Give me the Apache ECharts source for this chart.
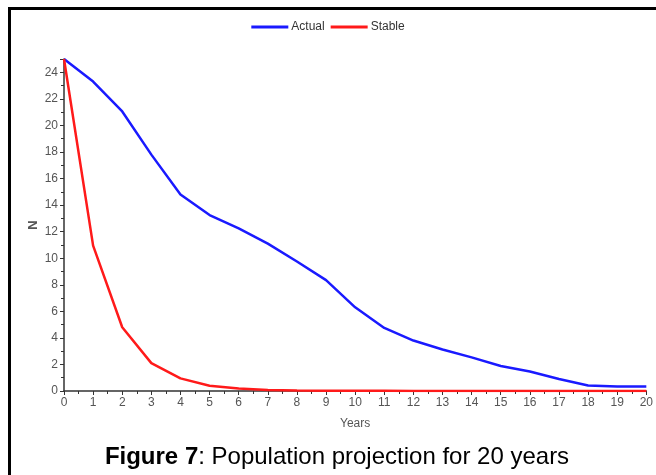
<!DOCTYPE html>
<html>
<head>
<meta charset="utf-8">
<script src="https://cdn.jsdelivr.net/npm/echarts@6/dist/echarts.min.js"></script>
<style>
    html, body { margin: 0; padding: 0; background: #fff; }
    #echart { width: 656px; height: 475px; }
    .frame {
        position: absolute;
        left: 8px;
        top: 7px;
        width: 660px;
        height: 480px;
        border-top: 3px solid #000;
        border-left: 3px solid #000;
        pointer-events: none;
    }
</style>
</head>
<body>
<div id="echart"></div>
<div class="frame"></div>
<script>
    var years = [0, 1, 2, 3, 4, 5, 6, 7, 8, 9, 10, 11, 12, 13, 14, 15, 16, 17, 18, 19, 20];
    var actual = [25, 23.3, 21.05, 17.8, 14.8, 13.25, 12.25, 11.1, 9.75, 8.35, 6.3, 4.75, 3.8, 3.13, 2.53, 1.88, 1.47, 0.9, 0.42, 0.33, 0.33];
    var stable = [25, 10.95, 4.8, 2.1, 0.95, 0.4, 0.18, 0.08, 0.04, 0.02, 0.01, 0.01, 0, 0, 0, 0, 0, 0, 0, 0, 0];

    var myChart = echarts.init(document.getElementById('echart'));
    var axisColor = '#333';
    var labelColor = '#555';
    var font = 'Liberation Sans, Arial';

    function pairs(values) {
        return years.map(function(y, i) { return [y, values[i]]; });
    }

    var option = {
        animation: false,
        title: {
            text: '{b|Figure 7}: Population projection for 20 years',
            left: 332,
            textAlign: 'center',
            top: 440,
            textStyle: {
                fontFamily: font,
                fontSize: 24,
                fontWeight: 'normal',
                color: '#000',
                rich: {
                    b: { fontFamily: font, fontSize: 24, fontWeight: 'bold', color: '#000' }
                }
            }
        },
        legend: {
            data: ['Actual', 'Stable'],
            top: 16,
            left: 'center',
            itemWidth: 37,
            itemHeight: 14,
            itemGap: 6,
            icon: 'path://M0,5.5 L37,5.5 L37,8.5 L0,8.5 Z',
            textStyle: { fontFamily: font, fontSize: 12, color: '#333', padding: [0, 0, 0, -2] }
        },
        grid: { left: 64, right: 6, top: 59, bottom: 84 },
        xAxis: {
            type: 'value',
            min: 0,
            max: 20,
            interval: 1,
            name: 'Years',
            nameLocation: 'middle',
            nameGap: 27,
            nameTextStyle: { fontFamily: font, fontSize: 12, color: labelColor },
            axisLine: { lineStyle: { color: axisColor, width: 1.5 } },
            axisTick: { show: true, length: 4, lineStyle: { color: axisColor } },
            minorTick: { show: true, splitNumber: 2, length: 3, lineStyle: { color: axisColor } },
            axisLabel: { fontFamily: font, fontSize: 12, color: labelColor, margin: 6 },
            splitLine: { show: false }
        },
        yAxis: {
            type: 'value',
            min: 0,
            max: 25,
            interval: 2,
            name: 'N',
            nameLocation: 'middle',
            nameGap: 24,
            nameRotate: 90,
            nameMoveOverlap: false,
            nameTextStyle: { fontFamily: font, fontSize: 13, fontWeight: 'bold', color: labelColor },
            axisLine: { show: true, lineStyle: { color: axisColor, width: 1.5 } },
            axisTick: { show: true, length: 4, lineStyle: { color: axisColor } },
            minorTick: { show: true, splitNumber: 2, length: 3, lineStyle: { color: axisColor } },
            axisLabel: { fontFamily: font, fontSize: 12, color: labelColor, margin: 6, showMaxLabel: false },
            splitLine: { show: false }
        },
        series: [
            {
                name: 'Actual',
                type: 'line',
                data: pairs(actual),
                symbol: 'none',
                itemStyle: { color: '#1a1aff' },
                lineStyle: { color: '#1a1aff', width: 2.5 }
            },
            {
                name: 'Stable',
                type: 'line',
                data: pairs(stable),
                symbol: 'none',
                itemStyle: { color: '#ff1a1a' },
                lineStyle: { color: '#ff1a1a', width: 2.5 }
            }
        ]
    };
    myChart.setOption(option);
</script>
</body>
</html>
